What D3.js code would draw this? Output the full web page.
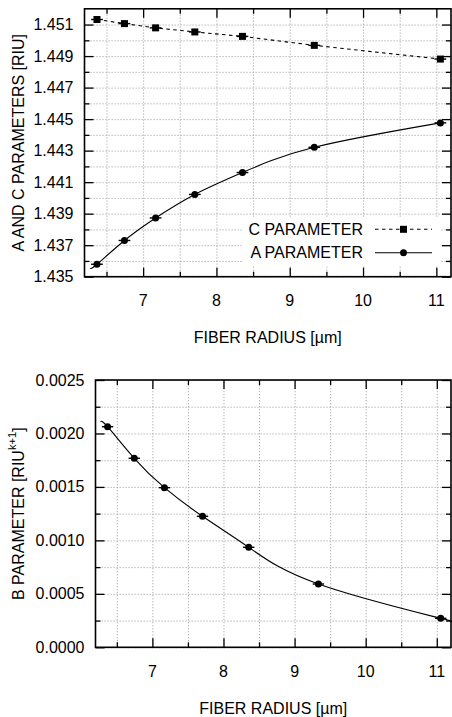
<!DOCTYPE html>
<html>
<head>
<meta charset="utf-8">
<script src="https://cdn.jsdelivr.net/npm/d3@7"></script>
<style>
  body { margin: 0; background: #fff; }
  svg { display: block; font-family: "Liberation Sans", Arial, Helvetica, sans-serif; }
</style>
</head>
<body>
<svg id="chart" width="452" height="717"></svg>
<script>
// fiber radius of each sample [um]
const radius = [6.37, 6.745, 7.17, 7.705, 8.355, 9.335, 11.055];
const radiusErr = [0.08, 0.08, 0.08, 0.08, 0.08, 0.08, 0.08];

// fitted parameters
const paramA = [1.43579, 1.43730, 1.43873, 1.44022, 1.44161, 1.44321, 1.44476];
const paramC = [1.45132, 1.45106, 1.45079, 1.45053, 1.45025, 1.44968, 1.44881];
const paramB = [0.002063, 0.001768, 0.001493, 0.001225, 0.000935, 0.000592, 0.000271];

// fit curve end points
const aFitStart = [6.28, 1.43554];
const bFitStart = [6.27, 0.00211];
const bFitEnd = [11.2, 0.000239];

// axes
const xDomain = [6.2, 11.2];
const xTicks = [7, 8, 9, 10, 11];
const xMinor = [6.5, 7.5, 8.5, 9.5, 10.5];
const topYDomain = [1.435, 1.452];
const topYTicks = [1.435, 1.437, 1.439, 1.441, 1.443, 1.445, 1.447, 1.449, 1.451];
const topYMinor = [1.436, 1.438, 1.440, 1.442, 1.444, 1.446, 1.448, 1.450];
const botYDomain = [0, 0.0025];
const botYTicks = [0, 0.0005, 0.0010, 0.0015, 0.0020, 0.0025];
const botYMinor = [0.00025, 0.00075, 0.00125, 0.00175, 0.00225];

const legendItems = ['C PARAMETER', 'A PARAMETER'];

const svg = d3.select('#chart');
const FS = 16;

function panel(box, yDomain, yTicks, yMinor, yFmt, yLabel) {
  const x = d3.scaleLinear().domain(xDomain).range([box.left, box.right]);
  const y = d3.scaleLinear().domain(yDomain).range([box.bottom, box.top]);
  const g = svg.append('g');
  const w = box.right - box.left, h = box.bottom - box.top;

  // grid
  const grid = g.append('g').attr('class', 'grid');
  grid.append('g').attr('transform', `translate(0,${box.bottom})`)
    .call(d3.axisBottom(x).tickValues(xTicks.concat(xMinor)).tickSize(-h).tickFormat(''));
  grid.append('g').attr('transform', `translate(${box.left},0)`)
    .call(d3.axisLeft(y).tickValues(yTicks.concat(yMinor)).tickSize(-w).tickFormat(''));
  grid.selectAll('.domain').remove();
  grid.selectAll('line').attr('stroke', '#a8a8a8').attr('stroke-width', 1)
    .attr('stroke-dasharray', '1.2,1.8');

  // inward ticks on all four sides
  const tk = g.append('g').attr('class', 'ticks');
  const sides = [
    [d3.axisBottom(x), `translate(0,${box.bottom})`, xTicks, xMinor],
    [d3.axisTop(x), `translate(0,${box.top})`, xTicks, xMinor],
    [d3.axisLeft(y), `translate(${box.left},0)`, yTicks, yMinor],
    [d3.axisRight(y), `translate(${box.right},0)`, yTicks, yMinor]
  ];
  sides.forEach(([ax, tr, maj, min]) => {
    tk.append('g').attr('transform', tr).call(ax.tickValues(maj).tickSize(-9).tickFormat(''));
    tk.append('g').attr('transform', tr).call(ax.tickValues(min).tickSize(-5).tickFormat(''));
  });
  tk.selectAll('.domain').remove();
  tk.selectAll('line').attr('stroke', '#000').attr('stroke-width', 1.3);

  // tick labels
  g.append('g').selectAll('text').data(xTicks).join('text')
    .attr('x', d => x(d)).attr('y', box.bottom + 24)
    .attr('text-anchor', 'middle').attr('dominant-baseline', 'central')
    .attr('font-size', FS).text(d => d);
  g.append('g').selectAll('text').data(yTicks).join('text')
    .attr('x', box.left - 11).attr('y', d => y(d))
    .attr('text-anchor', 'end').attr('dominant-baseline', 'central')
    .attr('font-size', FS).text(yFmt);

  // axis labels
  g.append('text').attr('x', (box.left + box.right) / 2).attr('y', box.bottom + 61)
    .attr('text-anchor', 'middle').attr('dominant-baseline', 'central')
    .attr('font-size', FS).text('FIBER RADIUS [µm]');
  const yl = g.append('text')
    .attr('transform', `translate(18,${(box.top + box.bottom) / 2}) rotate(-90)`)
    .attr('text-anchor', 'middle').attr('dominant-baseline', 'central')
    .attr('font-size', FS);
  yLabel(yl);

  return { x, y, g };
}

function frame(p, box) {
  p.g.append('rect').attr('x', box.left).attr('y', box.top)
    .attr('width', box.right - box.left).attr('height', box.bottom - box.top)
    .attr('fill', 'none').attr('stroke', '#000').attr('stroke-width', 1.6);
}

function errorBars(p, vals) {
  p.g.append('g').selectAll('line').data(radius).join('line')
    .attr('x1', (d, i) => p.x(d - radiusErr[i])).attr('x2', (d, i) => p.x(d + radiusErr[i]))
    .attr('y1', (d, i) => p.y(vals[i])).attr('y2', (d, i) => p.y(vals[i]))
    .attr('stroke', '#000').attr('stroke-width', 1.4);
}

function circles(p, vals) {
  p.g.append('g').selectAll('circle').data(radius).join('circle')
    .attr('cx', d => p.x(d)).attr('cy', (d, i) => p.y(vals[i]))
    .attr('r', 3.5).attr('fill', '#000');
}

// ---------- top panel ----------
const topBox = { left: 84.5, right: 451, top: 8.8, bottom: 276.7 };
const topP = panel(topBox, topYDomain, topYTicks, topYMinor, d3.format('.3f'),
  t => t.text('A AND C PARAMETERS [RIU]'));

const fitLine = d3.line().x(d => topP.x(d[0])).y(d => topP.y(d[1])).curve(d3.curveNatural);
const aPts = [aFitStart].concat(radius.map((r, i) => [r, paramA[i]]));
const cPts = radius.map((r, i) => [r, paramC[i]]);

topP.g.append('path').attr('d', fitLine(aPts)).attr('fill', 'none')
  .attr('stroke', '#000').attr('stroke-width', 1.1);
topP.g.append('path').attr('d', d3.line().x(d => topP.x(d[0])).y(d => topP.y(d[1]))(cPts))
  .attr('fill', 'none').attr('stroke', '#000').attr('stroke-width', 1.1)
  .attr('stroke-dasharray', '3.5,3.5');

errorBars(topP, paramA);
errorBars(topP, paramC);
circles(topP, paramA);
topP.g.append('g').selectAll('rect').data(radius).join('rect')
  .attr('x', d => topP.x(d) - 3.5).attr('y', (d, i) => topP.y(paramC[i]) - 3.5)
  .attr('width', 7).attr('height', 7).attr('fill', '#000');

// legend
const lg = topP.g.append('g');
lg.append('rect').attr('x', 243).attr('y', 217).attr('width', 197).attr('height', 48)
  .attr('fill', '#fff');
legendItems.forEach((name, i) => {
  const ly = 229.3 + i * 23.4;
  lg.append('text').attr('x', 363).attr('y', ly).attr('text-anchor', 'end')
    .attr('dominant-baseline', 'central').attr('font-size', FS).text(name);
  lg.append('line').attr('x1', 375).attr('x2', 432).attr('y1', ly).attr('y2', ly)
    .attr('stroke', '#000').attr('stroke-width', 1.1)
    .attr('stroke-dasharray', i === 0 ? '3.5,3.5' : null);
  if (i === 0) {
    lg.append('rect').attr('x', 400).attr('y', ly - 3.5).attr('width', 7).attr('height', 7)
      .attr('fill', '#000');
  } else {
    lg.append('circle').attr('cx', 403.5).attr('cy', ly).attr('r', 3.5).attr('fill', '#000');
  }
});
frame(topP, topBox);

// ---------- bottom panel ----------
const botBox = { left: 95.5, right: 451, top: 380, bottom: 647.3 };
const botP = panel(botBox, botYDomain, botYTicks, botYMinor, d3.format('.4f'), t => {
  t.append('tspan').text('B PARAMETER [RIU');
  t.append('tspan').attr('baseline-shift', 'super').attr('font-size', FS * 0.7).text('k+1');
  t.append('tspan').text(']');
});

const bPts = [bFitStart].concat(radius.map((r, i) => [r, paramB[i]]), [bFitEnd]);
botP.g.append('path')
  .attr('d', d3.line().x(d => botP.x(d[0])).y(d => botP.y(d[1])).curve(d3.curveNatural)(bPts))
  .attr('fill', 'none').attr('stroke', '#000').attr('stroke-width', 1.1);
errorBars(botP, paramB);
circles(botP, paramB);
frame(botP, botBox);
</script>
</body>
</html>
